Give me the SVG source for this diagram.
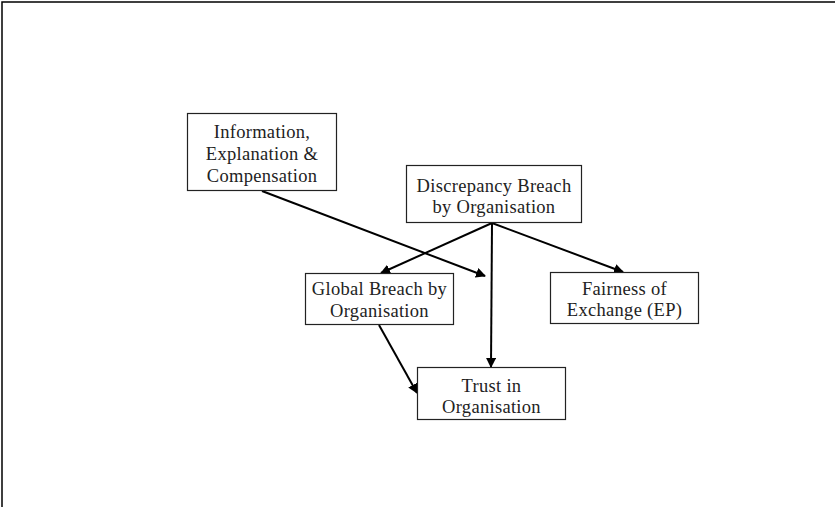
<svg xmlns="http://www.w3.org/2000/svg" width="835" height="507" viewBox="0 0 835 507">
<style>
.box{fill:#fff;stroke:#222;stroke-width:1.2}
.t{font-family:"Liberation Serif","Times New Roman",serif;font-size:18.5px;letter-spacing:0.3px;fill:#222;text-anchor:middle}
.c{stroke:#000;stroke-width:2;fill:none;marker-end:url(#ah)}
</style>
<defs>
<marker id="ah" viewBox="0 0 10 10" refX="9" refY="5" markerWidth="5" markerHeight="5" markerUnits="strokeWidth" orient="auto">
<path d="M0,0 L10,5 L0,10 z" fill="#000"/>
</marker>
</defs>
<rect width="835" height="507" fill="#fff"/>
<path d="M2,507 V2 H835" fill="none" stroke="#000" stroke-width="1.5"/>
<g id="connectors">
<line class="c" x1="262" y1="191" x2="485" y2="276"/>
<line class="c" x1="492" y1="223" x2="381" y2="273"/>
<line class="c" x1="492" y1="223" x2="491" y2="367"/>
<line class="c" x1="492" y1="223" x2="623" y2="272"/>
<line class="c" x1="379" y1="325" x2="417" y2="393"/>
</g>
<g id="info">
<rect class="box" x="187.5" y="113.5" width="149" height="77"/>
<text class="t" x="262" y="138">Information,</text>
<text class="t" x="262" y="160">Explanation &amp;</text>
<text class="t" x="262" y="182">Compensation</text>
</g>
<g id="discrepancy">
<rect class="box" x="406.5" y="165.5" width="175" height="57"/>
<text class="t" x="494" y="192">Discrepancy Breach</text>
<text class="t" x="494" y="213">by Organisation</text>
</g>
<g id="global">
<rect class="box" x="305.5" y="273.5" width="148" height="51"/>
<text class="t" x="379.5" y="295">Global Breach by</text>
<text class="t" x="379.5" y="317">Organisation</text>
</g>
<g id="fairness">
<rect class="box" x="550.5" y="272.5" width="148" height="51"/>
<text class="t" x="624.5" y="295">Fairness of</text>
<text class="t" x="624.5" y="316">Exchange (EP)</text>
</g>
<g id="trust">
<rect class="box" x="417.5" y="367.5" width="148" height="52"/>
<text class="t" x="491.5" y="392">Trust in</text>
<text class="t" x="491.5" y="413">Organisation</text>
</g>
</svg>
